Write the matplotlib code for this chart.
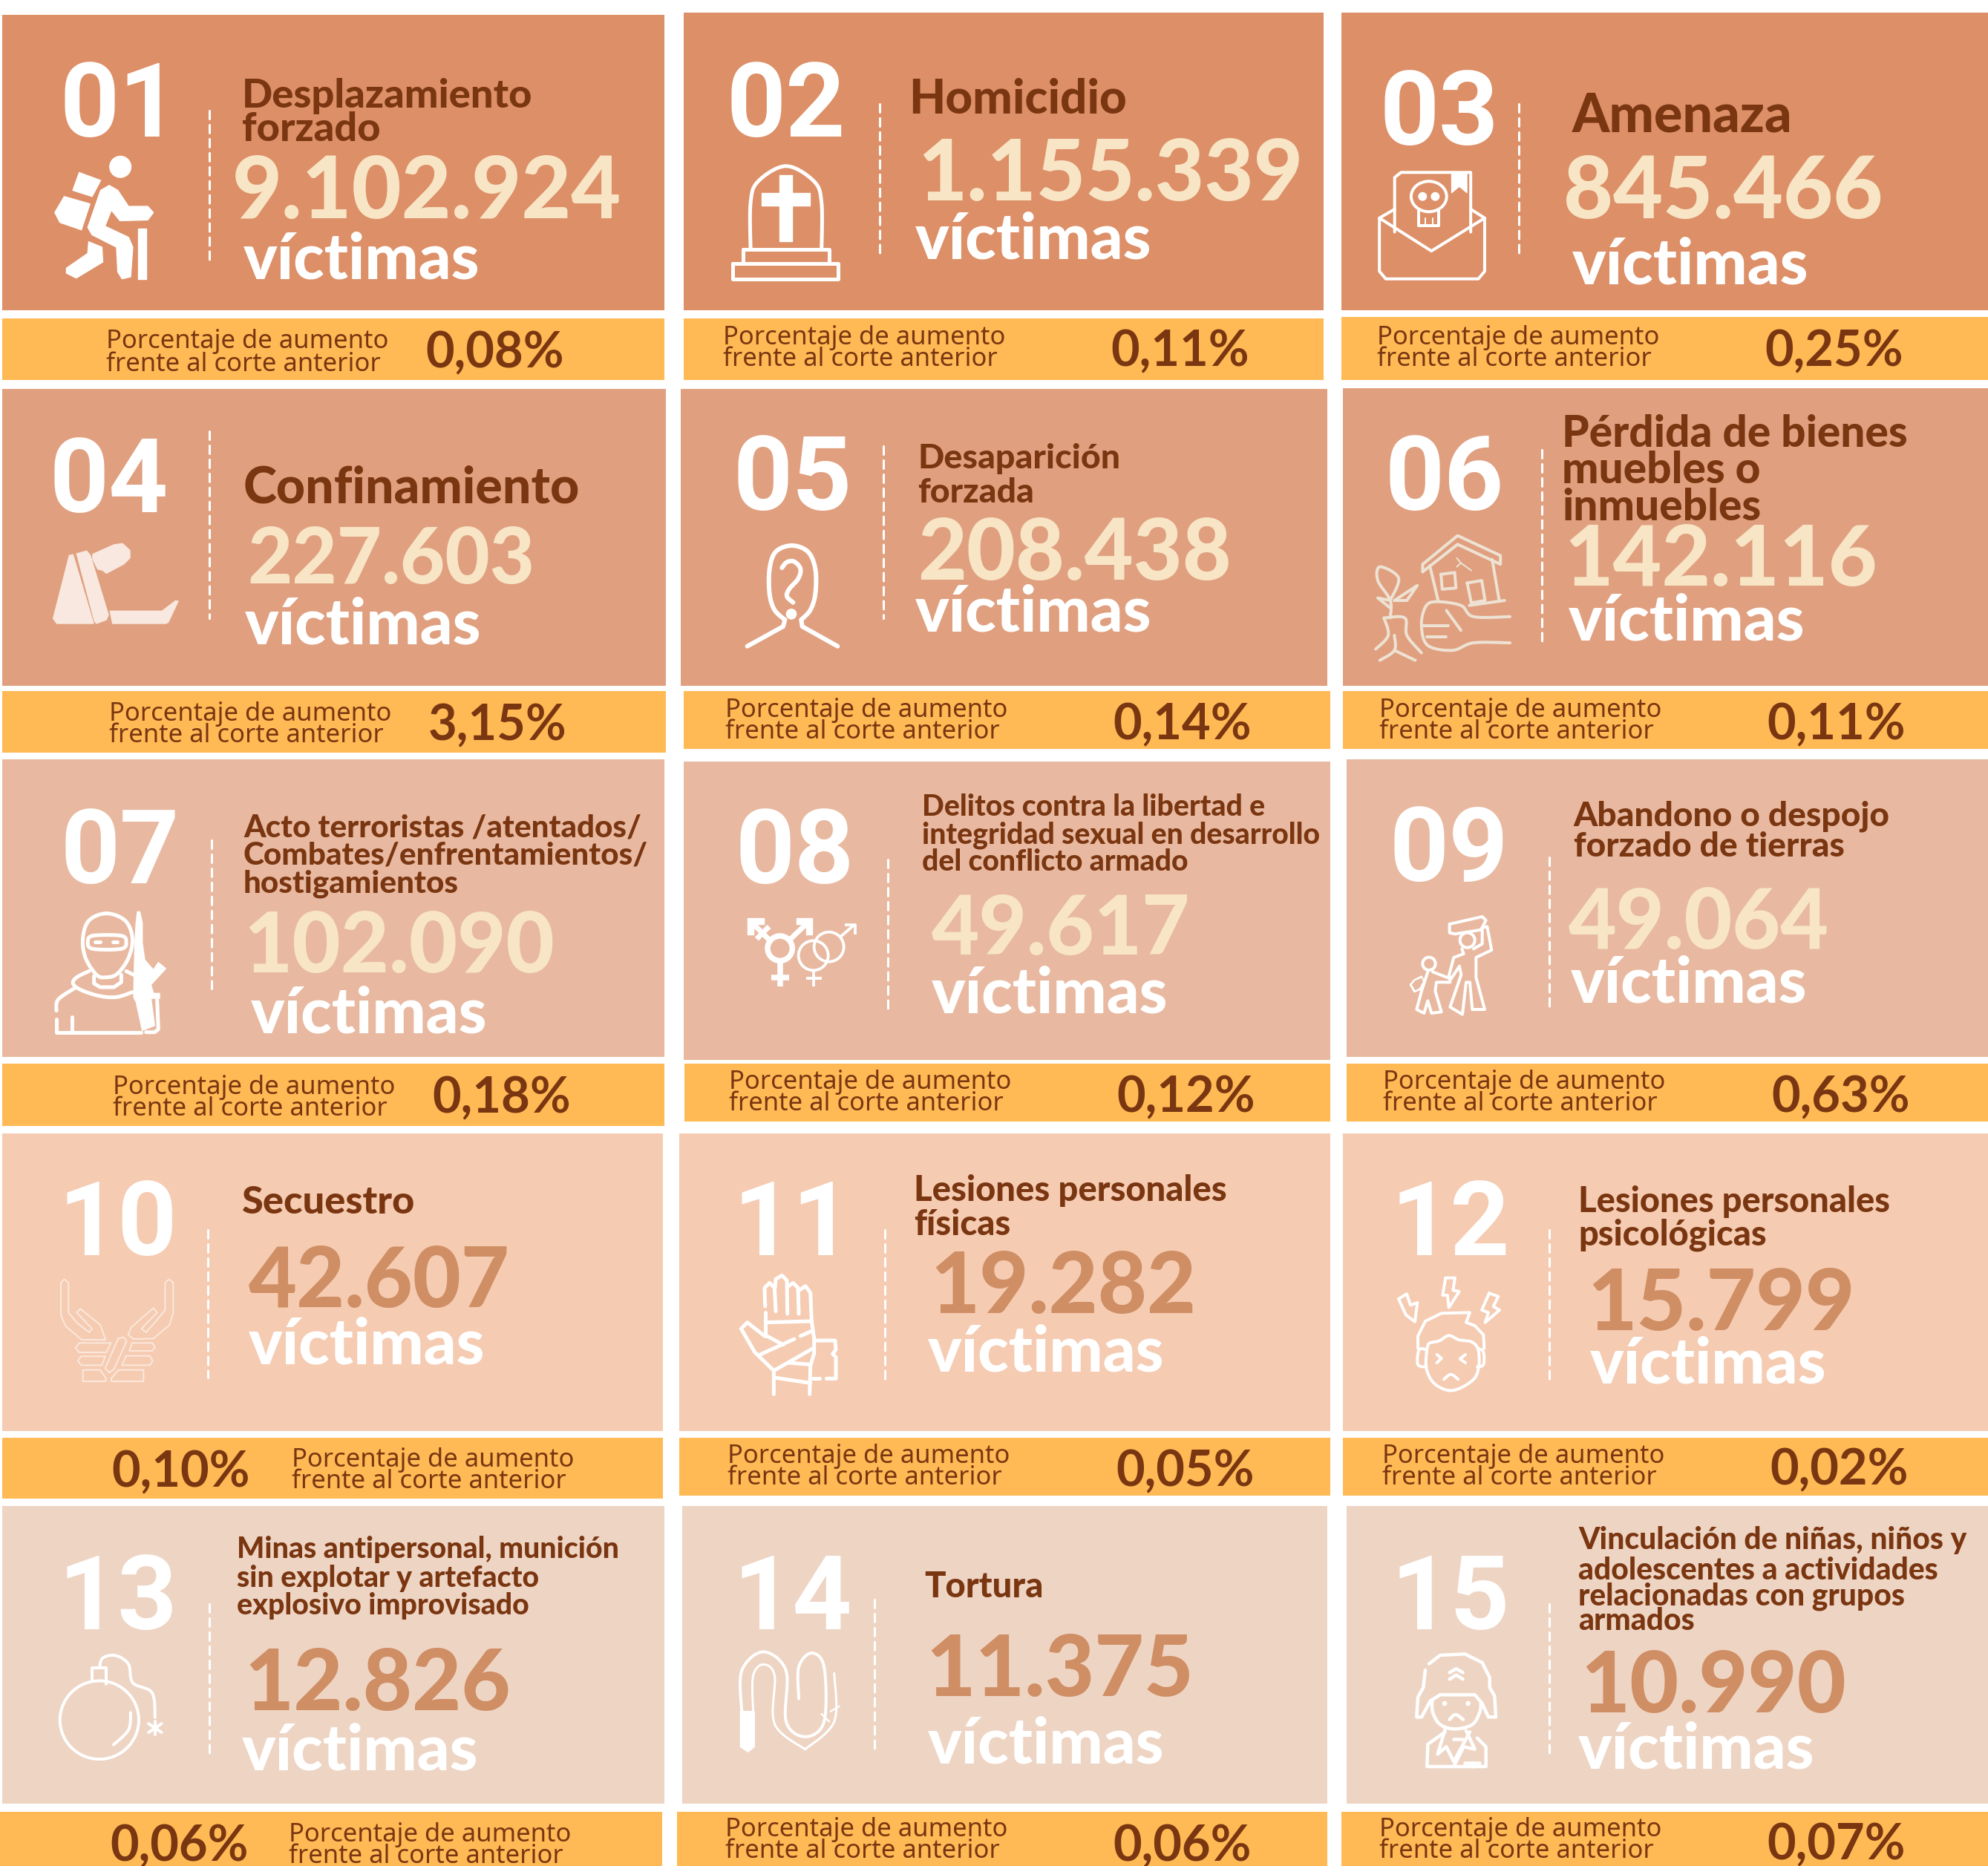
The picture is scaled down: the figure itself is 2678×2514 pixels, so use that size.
import numpy as np
import matplotlib
matplotlib.use("Agg")
import matplotlib.pyplot as plt
from matplotlib.patches import Rectangle, Polygon, Ellipse
from matplotlib.font_manager import FontProperties
from matplotlib.textpath import TextPath

# data
numbers = ["01", "02", "03", "04", "05", "06", "07", "08", "09", "10", "11", "12", "13", "14", "15"]
titles = [
    ["Desplazamiento", "forzado"], ["Homicidio"], ["Amenaza"],
    ["Confinamiento"], ["Desaparición", "forzada"], ["Pérdida de bienes", "muebles o", "inmuebles"],
    ["Acto terroristas /atentados/", "Combates/enfrentamientos/", "hostigamientos"],
    ["Delitos contra la libertad e", "integridad sexual en desarrollo", "del conflicto armado"],
    ["Abandono o despojo", "forzado de tierras"],
    ["Secuestro"], ["Lesiones personales", "físicas"], ["Lesiones personales", "psicológicas"],
    ["Minas antipersonal, munición", "sin explotar y artefacto", "explosivo improvisado"],
    ["Tortura"],
    ["Vinculación de niñas, niños y", "adolescentes a actividades", "relacionadas con grupos", "armados"],
]
victims = ["9.102.924", "1.155.339", "845.466", "227.603", "208.438", "142.116", "102.090", "49.617",
           "49.064", "42.607", "19.282", "15.799", "12.826", "11.375", "10.990"]
increase = ["0,08%", "0,11%", "0,25%", "3,15%", "0,14%", "0,11%", "0,18%", "0,12%", "0,63%", "0,10%",
            "0,05%", "0,02%", "0,06%", "0,06%", "0,07%"]
label_1 = "Porcentaje de aumento"
label_2 = "frente al corte anterior"
unit = "víctimas"

# layout, measured on the 1568 wide view
S = 2678 / 1568
cards = [(2, 12, 524, 245), (539, 10, 1044, 245), (1058, 10, 1568, 245),
         (2, 307, 525, 541), (537, 307, 1047, 541), (1059, 306, 1568, 541),
         (2, 599, 524, 834), (539, 601, 1049, 836), (1062, 599, 1568, 834),
         (2, 894, 523, 1129), (536, 894, 1049, 1129), (1059, 894, 1568, 1129),
         (2, 1188, 524, 1423), (538, 1188, 1047, 1423), (1062, 1188, 1568, 1423)]
bars = [(2, 251, 524, 300), (539, 251, 1044, 300), (1058, 250, 1568, 300),
        (2, 545, 525, 594), (539, 545, 1049, 591), (1059, 545, 1568, 591),
        (2, 839, 524, 888), (540, 839, 1049, 885), (1062, 839, 1568, 885),
        (2, 1134, 523, 1182), (536, 1134, 1049, 1180), (1059, 1134, 1568, 1180),
        (0, 1429, 522, 1472), (534, 1429, 1047, 1472), (1058, 1429, 1568, 1472)]
num_pos = [(47, 108), (573, 108), (1088, 114), (39, 404), (578, 402), (1092, 402), (48, 697), (580, 697),
           (1096, 695), (46, 990), (578, 990), (1097, 990), (46, 1285), (578, 1285), (1097, 1285)]
title_x = [191, 717, 1240, 192, 724, 1232, 192, 727, 1241, 191, 721, 1245, 187, 729, 1245]
title_y = [[76, 102], [79], [92], [385], [362, 389], [342, 371, 400], [653, 675, 697], [637, 659, 680],
           [644, 668], [949], [939, 966], [948, 974], [1222, 1245, 1267], [1252], [1215, 1239, 1259, 1279]]
title_w = [226, 168, 172, 263, 156, 269, 318, 312, 249, 135, 244, 243, 299, 92, 306]
value_pos = [(183, 172), (724, 158), (1233, 172), (195, 460), (724, 457), (1234, 462), (192, 767), (735, 753),
             (1237, 748), (196, 1031), (734, 1036), (1252, 1049), (193, 1349), (730, 1338), (1247, 1351)]
value_w = [303, 297, 248, 222, 243, 241, 240, 202, 204, 204, 203, 204, 204, 204, 204]
unit_pos = [(192, 220), (722, 204), (1240, 224), (193, 508), (722, 498), (1237, 505), (198, 815), (735, 799),
            (1239, 791), (196, 1076), (732, 1082), (1254, 1091), (191, 1396), (732, 1391), (1245, 1395)]
dash = [(165, 87, 205), (694, 82, 200), (1198, 82, 200), (165, 340, 488), (697, 352, 488), (1216, 355, 507),
        (167, 663, 780), (700, 678, 796), (1222, 676, 795), (164, 970, 1087), (698, 970, 1088), (1222, 970, 1088),
        (165, 1265, 1383), (690, 1262, 1380), (1222, 1265, 1383)]
label_pos = [(84, 268, 286), (570, 265, 282), (1086, 265, 282), (86, 562, 579), (572, 559, 576), (1088, 559, 576),
             (89, 856, 873), (575, 852, 869), (1091, 852, 869), (230, 1150, 1167), (574, 1147, 1164),
             (1090, 1147, 1164), (228, 1446, 1463), (572, 1442, 1459), (1088, 1442, 1459)]
pct_pos = [(336, 279), (876, 278), (1392, 278), (338, 573), (878, 572), (1394, 572), (341, 867), (881, 866),
           (1397, 866), (88, 1162), (880, 1161), (1396, 1160), (87, 1457), (878, 1457), (1394, 1456)]

# colours
row_colors = ["#DD8F67", "#E0A07F", "#E8B9A0", "#F5CBB2", "#EED4C3"]
bar_color = "#FFBA55"
dark = "#7A3611"
cream = "#F7E5C6"
tan = "#CF8E64"
white = "white"

LABEL = ["Noto Sans", "DejaVu Sans"]
HEAVY = ["Lato", "DejaVu Sans"]
BIG = ["Roboto", "DejaVu Sans"]


def fit(s, target, fam, weight="bold"):
    tp = TextPath((0, 0), s, size=100, prop=FontProperties(family=fam, weight=weight))
    return 100 * target * S * 0.72 / tp.get_extents().width


fig = plt.figure(figsize=(26.78, 25.14), dpi=100, facecolor="white")
ax = fig.add_axes([0, 0, 1, 1])
ax.set_xlim(0, 2678)
ax.set_ylim(2514, 0)
ax.axis("off")

fs_num = fit("02", 87, BIG)
fs_unit = fit(unit, 185, HEAVY, "black")
fs_pct = fit("0,08%", 107, HEAVY)
fs_lab = fit(label_1, 220, LABEL, "normal")


def smooth(pts, closed=False, n=12):
    p = np.array(pts, float)
    if closed:
        p = np.vstack([p[-1], p, p[0], p[1]])
    else:
        p = np.vstack([p[0], p, p[-1]])
    out = []
    for i in range(1, len(p) - 2):
        t = np.linspace(0, 1, n, endpoint=False)[:, None]
        a, b, c, d = p[i - 1], p[i], p[i + 1], p[i + 2]
        out.append(0.5 * (2 * b + (c - a) * t + (2 * a - 5 * b + 4 * c - d) * t ** 2 + (3 * b - a - 3 * c + d) * t ** 3))
    out = np.vstack(out)
    return np.vstack([out, p[-2]])


class Icon:
    def __init__(self, x, y, kx, ky=None, color="white"):
        self.x, self.y, self.kx, self.ky = x, y, kx, kx if ky is None else ky
        self.color = color

    def xy(self, pts):
        p = np.array(pts, float)
        return self.x + p[:, 0] * self.kx, self.y + p[:, 1] * self.ky

    def line(self, pts, lw=4, curve=False, closed=False, cap="round"):
        if curve:
            pts = smooth(pts, closed)
        elif closed:
            pts = list(pts) + [pts[0]]
        xs, ys = self.xy(pts)
        ax.plot(xs, ys, color=self.color, lw=lw * 0.72, solid_capstyle=cap, solid_joinstyle="round", zorder=4)

    def fill(self, pts, curve=False):
        if curve:
            pts = smooth(pts, True)
        xs, ys = self.xy(pts)
        ax.add_patch(Polygon(np.c_[xs, ys], closed=True, fc=self.color, ec=self.color, lw=1, joinstyle="round", zorder=4))

    def oval(self, cx, cy, rx, ry=None, lw=None):
        ry = rx if ry is None else ry
        x, y = self.x + cx * self.kx, self.y + cy * self.ky
        if lw is None:
            ax.add_patch(Ellipse((x, y), 2 * rx * self.kx, 2 * ry * self.ky, fc=self.color, ec="none", zorder=4))
        else:
            ax.add_patch(Ellipse((x, y), 2 * rx * self.kx, 2 * ry * self.ky, fc="none", ec=self.color, lw=lw * 0.72, zorder=4))


def icon_01():
    i = Icon(0, 0, 0.577, 0.333)
    i.oval(281, 675, 26, 45)
    i.fill([(185, 698), (235, 730), (215, 795), (170, 770)])
    i.fill([(150, 795), (210, 825), (190, 930), (140, 900), (128, 860)])
    i.fill([(255, 750), (275, 770), (300, 835), (345, 835), (358, 860), (345, 890), (280, 893), (260, 850), (245, 915),
            (300, 960), (310, 1000), (305, 1120), (285, 1128), (275, 1100), (272, 1000), (215, 950), (205, 920), (235, 770)])
    i.fill([(207, 978), (238, 1000), (240, 1060), (178, 1125), (155, 1105), (155, 1085), (205, 1025)])
    i.fill([(323, 925), (342, 925), (342, 1128), (323, 1128)])


def icon_02():
    i = Icon(0, 0, S)
    i.line([(592, 197), (592, 160), (598, 143), (620, 131), (642, 143), (648, 160), (648, 197)], 5, curve=True)
    i.line([(586, 197), (654, 197), (654, 208), (586, 208), (586, 197)], 5)
    i.line([(578, 208), (661, 208), (661, 220), (578, 220), (578, 208)], 5)
    i.fill([(615, 138), (625, 138), (625, 152), (639, 152), (639, 162), (625, 162), (625, 190), (615, 190),
            (615, 162), (601, 162), (601, 152), (615, 152)])


def icon_03():
    i = Icon(0, 0, S)
    i.line([(1100, 165), (1088, 172), (1088, 214), (1093, 220), (1166, 220), (1171, 214), (1171, 172), (1160, 165)], 4)
    i.line([(1088, 172), (1129, 198), (1171, 172)], 4)
    i.line([(1100, 183), (1100, 140), (1105, 136), (1160, 136), (1160, 183)], 4)
    i.oval(1127, 155, 14, 12, 4)
    i.oval(1122, 155, 3.5, 3.5)
    i.oval(1132, 155, 3.5, 3.5)
    i.line([(1119, 166), (1119, 178), (1135, 178), (1135, 166)], 4)
    i.line([(1124, 172), (1124, 178)], 2)
    i.line([(1130, 172), (1130, 178)], 2)
    i.fill([(1145, 136), (1157, 136), (1157, 152), (1151, 147), (1145, 152)])


def icon_04():
    i = Icon(50, 710, 1 / 3, color="#F8E8DF")
    i.fill([(130, 115), (145, 112), (228, 390), (80, 390), (65, 370)])
    i.fill([(160, 108), (200, 97), (215, 115), (288, 355), (280, 375), (240, 390), (232, 380)])
    i.fill([(225, 110), (310, 72), (345, 67), (375, 95), (375, 125), (350, 150), (280, 187), (265, 175), (245, 170), (225, 130)])
    i.fill([(295, 340), (505, 340), (560, 298), (570, 300), (530, 385), (520, 390), (305, 390)])


def icon_05():
    i = Icon(970, 700, 1 / 3)
    i.line([(110, 512), (255, 432), (262, 405)], 6)
    i.line([(262, 405), (220, 365), (200, 300), (200, 200), (225, 130), (290, 105), (355, 130), (385, 200), (385, 300),
            (365, 365), (328, 405)], 6, curve=True)
    i.line([(328, 405), (332, 432), (475, 512)], 6)
    i.line([(250, 195), (270, 172), (300, 170), (325, 200), (315, 240), (280, 280), (270, 310), (295, 335)], 6, curve=True)
    i.oval(288, 382, 22)


def icon_06():
    i = Icon(1800, 520, 0.56, 0.336, color="#EDE2D3")
    lw = 4
    i.line([(208, 745), (208, 715), (292, 600), (395, 680), (395, 715), (292, 635), (208, 745)], lw)
    i.line([(225, 720), (245, 860)], lw)
    i.line([(375, 695), (392, 860)], lw)
    i.line([(320, 880), (405, 860)], lw)
    i.line([(252, 755), (285, 748), (288, 810), (255, 815), (252, 755)], lw)
    i.line([(315, 790), (350, 780), (358, 860), (325, 870), (315, 790)], lw)
    i.line([(290, 690), (300, 710), (290, 725)], 2)
    i.line([(300, 710), (325, 740)], 2)
    i.line([(418, 925), (330, 925), (300, 880), (240, 865), (215, 885), (205, 960), (220, 1040), (280, 1060), (330, 1030), (418, 1030)], lw, curve=True)
    i.line([(205, 960), (270, 960)], lw)
    i.line([(218, 1005), (265, 1005)], lw)
    i.line([(265, 900), (300, 980)], lw)
    i.line([(130, 930), (130, 860), (100, 780), (105, 725), (150, 770), (130, 860)], lw, curve=True)
    i.line([(140, 860), (195, 800), (170, 860), (140, 860)], lw)
    i.line([(130, 890), (100, 850), (130, 860)], lw)
    i.line([(115, 930), (165, 930), (170, 1000), (205, 1070)], lw, curve=True)
    i.line([(115, 930), (125, 1000), (95, 1055)], lw, curve=True)
    i.line([(140, 1000), (140, 1060), (105, 1100)], lw, curve=True)
    i.line([(140, 1060), (190, 1100)], lw)


def icon_07():
    i = Icon(50, 1210, 1 / 3)
    lw = 5
    i.line([(280, 62), (210, 90), (185, 160), (195, 240), (240, 310), (280, 320), (325, 305), (370, 240), (385, 160), (355, 90)], lw, curve=True, closed=True)
    i.line([(225, 152), (340, 152), (360, 178), (340, 205), (225, 205), (205, 178)], lw, curve=True, closed=True)
    i.line([(235, 178), (255, 178)], lw)
    i.line([(305, 178), (325, 178)], lw)
    i.line([(230, 315), (230, 345), (255, 360), (310, 360), (340, 340), (340, 310)], lw)
    i.line([(210, 295), (160, 320), (145, 345), (175, 370), (250, 395), (320, 400), (385, 380)], lw, curve=True)
    i.line([(360, 295), (390, 310)], lw)
    i.line([(78, 455), (85, 410), (150, 365)], lw, curve=True)
    i.line([(78, 490), (78, 542), (420, 542)], lw)
    i.line([(140, 480), (140, 540)], lw)
    i.line([(485, 410), (490, 530), (475, 542), (440, 542)], lw)
    i.fill([(405, 55), (415, 55), (425, 100), (425, 180), (435, 250), (470, 290), (490, 260), (520, 285), (460, 350), (470, 385), (495, 385),
            (495, 405), (460, 405), (475, 515), (425, 535), (400, 420), (390, 400), (395, 180), (400, 100)])


def icon_08():
    i = Icon(980, 1210, 1 / 3)
    i.oval(212, 203, 50, lw=7.5)
    i.line([(212, 260), (212, 356)], 7.5, cap="butt")
    i.line([(178, 322), (248, 322)], 7.5, cap="butt")
    i.line([(255, 165), (325, 98)], 7, cap="butt")
    i.fill([(278, 82), (342, 82), (342, 148), (318, 148), (318, 105), (278, 105)])
    i.line([(105, 105), (170, 170)], 7, cap="butt")
    i.fill([(82, 82), (147, 82), (147, 105), (105, 105), (105, 148), (82, 148)])
    i.line([(118, 165), (168, 115)], 7, cap="butt")
    i.oval(347, 232, 60, lw=3.8)
    i.oval(410, 197, 60, lw=3.8)
    i.line([(347, 293), (347, 356)], 3.8, cap="butt")
    i.line([(317, 325), (380, 325)], 3.8, cap="butt")
    i.line([(458, 155), (512, 108)], 3.8, cap="butt")
    i.line([(475, 107), (517, 107), (517, 147)], 3.8, cap="butt")


def icon_09():
    i = Icon(1880, 1220, 1 / 3)
    lw = 4
    i.line([(218, 75), (350, 45), (365, 60), (345, 98), (240, 115), (218, 110), (218, 75)], lw)
    i.oval(290, 140, 30, lw=lw)
    i.line([(268, 175), (275, 195), (235, 210), (215, 285), (225, 295), (258, 245), (265, 280), (220, 410), (270, 440), (285, 310),
            (300, 310), (310, 420), (360, 420), (325, 290), (325, 210), (388, 180), (370, 85), (350, 90), (350, 155), (315, 175)], lw)
    i.oval(135, 235, 26, lw=lw)
    i.line([(150, 268), (220, 295), (220, 310), (165, 310), (160, 345), (185, 430), (145, 435), (130, 385), (115, 435), (85, 420), (105, 345), (130, 268)], lw)
    i.fill([(105, 285), (75, 300), (58, 320), (75, 350), (100, 340), (115, 305)])
    i2 = Icon(1880, 1220, 1 / 3, color="#E8B9A0")
    i2.fill([(105, 295), (80, 305), (68, 320), (80, 340), (95, 332), (108, 308)])


def icon_10():
    i = Icon(60, 1700, 1 / 3, color="#FBE8DC")
    lw = 2
    i.line([(66, 85), (80, 70), (97, 85), (97, 205), (130, 245), (180, 285), (192, 270), (130, 205), (145, 190), (225, 255), (247, 315), (150, 315), (85, 260), (66, 215), (66, 85)], lw)
    i.line([(520, 85), (503, 70), (487, 85), (487, 195), (450, 240), (410, 285), (392, 270), (455, 205), (440, 187), (350, 265), (338, 295), (360, 312), (440, 310), (505, 255), (520, 205), (520, 85)], lw)
    i.line([(298, 310), (320, 305), (332, 320), (280, 435), (262, 448), (245, 430), (298, 310)], lw)
    i.line([(268, 328), (140, 328), (125, 348), (140, 366), (250, 366), (268, 328)], lw)
    i.line([(355, 328), (435, 328), (447, 345), (435, 360), (342, 360), (355, 328)], lw)
    i.line([(245, 382), (148, 382), (135, 400), (148, 418), (232, 418), (245, 382)], lw)
    i.line([(330, 380), (425, 380), (437, 400), (425, 418), (313, 418), (330, 380)], lw)
    i.line([(225, 437), (155, 437), (155, 483), (248, 483), (248, 470), (225, 437)], lw)
    i.line([(300, 437), (400, 437), (400, 483), (270, 483), (270, 470), (300, 437)], lw)


def icon_11():
    i = Icon(980, 1700, 1 / 3)
    lw = 5
    i.line([(152, 180), (150, 105), (170, 85), (190, 105), (195, 200)], lw)
    i.line([(192, 105), (195, 70), (220, 55), (240, 75), (242, 210)], lw)
    i.line([(244, 100), (265, 85), (285, 105), (288, 210)], lw)
    i.line([(290, 115), (315, 98), (335, 125), (340, 240), (350, 310), (350, 370), (335, 420), (332, 535)], lw)
    i.line([(152, 205), (152, 300)], lw)
    i.line([(155, 245), (340, 240)], lw)
    i.line([(150, 300), (80, 245), (55, 270), (110, 365), (187, 440), (187, 535)], lw)
    i.line([(150, 295), (225, 335)], lw)
    i.line([(125, 378), (270, 312)], lw)
    i.line([(295, 300), (340, 280)], lw)
    i.line([(187, 440), (345, 350)], lw)
    i.line([(245, 408), (335, 415)], lw)
    i.line([(190, 468), (335, 490)], lw)
    i.line([(355, 318), (435, 318), (438, 355), (425, 372), (438, 385), (438, 472), (400, 472)], lw)
    i.line([(345, 472), (372, 472)], lw)


def icon_12():
    i = Icon(1870, 1710, 1 / 3)
    lw = 4
    i.line([(120, 320), (120, 270), (150, 210), (215, 178), (330, 175), (315, 215), (350, 228), (385, 265), (388, 320)], lw)
    i.line([(155, 335), (165, 300), (205, 290), (245, 268), (285, 285), (340, 295), (365, 330), (365, 400), (340, 450), (260, 490), (190, 465), (155, 405), (155, 335)], lw, curve=True)
    i.line([(155, 325), (125, 325), (120, 385), (155, 395)], lw, curve=True)
    i.line([(365, 320), (385, 335), (385, 385), (360, 395)], lw, curve=True)
    i.line([(197, 345), (215, 360), (197, 378)], lw)
    i.line([(312, 345), (290, 362), (312, 378)], lw)
    i.line([(225, 445), (253, 425), (283, 445)], lw, curve=True)
    i.line([(232, 35), (270, 35), (262, 85), (287, 90), (245, 155), (240, 105), (220, 105), (232, 35)], lw)
    i.line([(42, 120), (75, 100), (90, 145), (118, 135), (108, 212), (72, 185), (65, 170), (42, 120)], lw)
    i.line([(408, 97), (445, 110), (425, 150), (450, 165), (392, 215), (405, 175), (378, 165), (408, 97)], lw)


def icon_13():
    i = Icon(0, 2020, 0.577, 0.334)
    lw = 4
    i.oval(232, 890, 92, 158, lw=lw)
    i.line([(215, 735), (215, 680), (248, 680), (248, 745)], lw)
    i.line([(232, 680), (240, 640), (270, 630), (300, 665), (310, 740), (355, 780), (362, 880)], lw, curve=True)
    i.line([(305, 860), (300, 930), (265, 990)], lw, curve=True)
    i.line([(362, 895), (362, 950)], lw)
    i.line([(347, 905), (377, 940)], lw)
    i.line([(377, 905), (347, 940)], lw)


def icon_14():
    i = Icon(0, 0, S)
    i.fill([(584, 1350), (595, 1350), (595, 1378), (590, 1382), (584, 1378)])
    i.line([(585, 1350), (585, 1318), (602, 1303), (620, 1318), (620, 1358), (635, 1370), (650, 1358), (650, 1315), (640, 1304), (630, 1315), (630, 1340)], 4, curve=True)
    i.line([(594, 1350), (594, 1322), (602, 1313), (611, 1322), (611, 1360), (635, 1380)], 3, curve=True)
    i.line([(635, 1380), (658, 1358), (658, 1320)], 3, curve=True)
    i.line([(655, 1350), (662, 1346)], 2.5)
    i.line([(648, 1352), (654, 1358)], 2.5)


def icon_15():
    i = Icon(1890, 2210, 1 / 3)
    lw = 4.5
    i.line([(105, 95), (150, 60), (250, 55), (320, 90), (350, 150), (350, 190), (370, 225), (375, 310), (345, 310), (320, 255), (290, 220), (150, 220), (110, 245), (75, 310), (55, 310), (60, 230), (82, 190), (90, 120)], lw)
    i.line([(118, 240), (120, 290), (150, 340), (210, 358), (280, 340), (310, 290), (315, 250)], lw, curve=True)
    i.oval(168, 255, 10)
    i.oval(263, 255, 10)
    i.line([(188, 320), (212, 300), (243, 320)], lw, curve=True)
    i.line([(188, 130), (215, 115), (242, 130)], lw)
    i.line([(188, 157), (215, 140), (242, 157)], lw)
    i.line([(170, 370), (100, 420), (97, 510), (335, 510), (335, 430), (300, 395)], lw)
    i.line([(170, 360), (140, 460), (175, 430), (205, 490), (270, 370)], lw)
    i.line([(205, 400), (240, 400)], lw)
    i.line([(255, 365), (290, 440), (245, 430), (205, 510)], lw)
    i.line([(250, 495), (310, 495)], lw)
    i.line([(280, 495), (280, 510)], lw)


icons = [icon_01, icon_02, icon_03, icon_04, icon_05, icon_06, icon_07, icon_08, icon_09, icon_10, icon_11,
         icon_12, icon_13, icon_14, icon_15]

for k, (x0, y0, x1, y1) in enumerate(cards):
    row = k // 3
    ax.add_patch(Rectangle((x0 * S, y0 * S), (x1 - x0) * S, (y1 - y0) * S, fc=row_colors[row], ec="none", zorder=1))
    bx0, by0, bx1, by1 = bars[k]
    ax.add_patch(Rectangle((bx0 * S, by0 * S), (bx1 - bx0) * S, (by1 - by0) * S, fc=bar_color, ec="none", zorder=1))

    nx, ny = num_pos[k]
    ax.text(nx * S, ny * S, numbers[k], color=white, fontsize=fs_num, fontweight="bold", family=BIG, va="baseline", ha="left", zorder=5)

    fs_t = min(fit(line, title_w[k], HEAVY, "black") for line in titles[k])
    for line, ty in zip(titles[k], title_y[k]):
        ax.text(title_x[k] * S, ty * S, line, color=dark, fontsize=fs_t, fontweight="black", family=HEAVY, va="center", ha="left", zorder=5)

    vx, vy = value_pos[k]
    fs_val = fit(victims[k], value_w[k], HEAVY, "black")
    ax.text(vx * S, vy * S, victims[k], color=tan if row >= 3 else cream, fontsize=fs_val, fontweight="black", family=HEAVY, va="baseline", ha="left", zorder=5)
    ux, uy = unit_pos[k]
    ax.text(ux * S, uy * S, unit, color=white, fontsize=fs_unit, fontweight="black", family=HEAVY, va="baseline", ha="left", zorder=5)

    dx, d0, d1 = dash[k]
    ax.plot([dx * S, dx * S], [d0 * S, d1 * S], color=white, lw=2.2, ls=(0, (3.6, 2.6)), dash_capstyle="round", zorder=3)

    lx, l1, l2 = label_pos[k]
    ax.text(lx * S, (l1 + 1.5) * S, label_1, color=dark, fontsize=fs_lab, family=LABEL, va="center", ha="left", zorder=5)
    ax.text(lx * S, (l2 + 1.5) * S, label_2, color=dark, fontsize=fs_lab, family=LABEL, va="center", ha="left", zorder=5)
    px, py = pct_pos[k]
    ax.text(px * S, py * S, increase[k], color=dark, fontsize=fs_pct, fontweight="bold", family=HEAVY, va="center", ha="left", zorder=5)

    icons[k]()

fig.savefig("out.png", dpi=100, facecolor="white")
